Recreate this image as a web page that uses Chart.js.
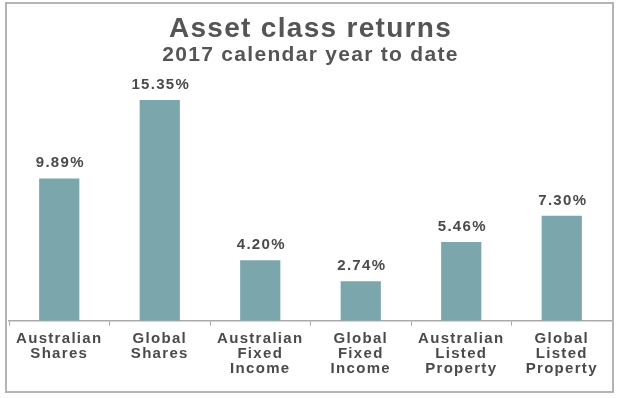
<!DOCTYPE html>
<html>
<head>
<meta charset="utf-8">
<script src="https://cdn.jsdelivr.net/npm/chart.js@4.4.0/dist/chart.umd.min.js"></script>
<style>
  html, body { margin: 0; padding: 0; background: #fff; }
  #wrap { position: relative; width: 618px; height: 398px; }
  #frame { position: absolute; left: 5px; top: 2px; width: 605px; height: 387px; border: 2px solid #b4b4b4; pointer-events: none; }
  canvas { position: absolute; left: 0; top: 0; }
</style>
</head>
<body>
<div id="wrap">
  <canvas id="c" width="618" height="398"></canvas>
  <div id="frame"></div>
</div>
<script>
// Asset class returns, 2017 YTD
const categories = [
  ['Australian', 'Shares'],
  ['Global', 'Shares'],
  ['Australian', 'Fixed', 'Income'],
  ['Global', 'Fixed', 'Income'],
  ['Australian', 'Listed', 'Property'],
  ['Global', 'Listed', 'Property']
];
const returns = [9.89, 15.35, 4.20, 2.74, 5.46, 7.30];
const valueLabels = ['9.89%', '15.35%', '4.20%', '2.74%', '5.46%', '7.30%'];

const FONT = "'Liberation Sans', Arial, sans-serif";
const TXT = '#4a4a4a';

// the original text is set wide, so space the letters out a little
const spacingPlugin = {
  id: 'spacing',
  beforeDraw(chart) { chart.ctx.letterSpacing = '1.3px'; }
};

const valueLabelPlugin = {
  id: 'valueLabels',
  afterDatasetsDraw(chart) {
    const ctx = chart.ctx;
    const meta = chart.getDatasetMeta(0);
    ctx.save();
    ctx.font = 'bold 15px ' + FONT;
    ctx.fillStyle = TXT;
    ctx.textAlign = 'center';
    ctx.textBaseline = 'alphabetic';
    meta.data.forEach((bar, i) => {
      ctx.fillText(valueLabels[i], bar.x + 1, bar.y - 11);
    });
    ctx.restore();
  }
};

new Chart(document.getElementById('c'), {
  type: 'bar',
  data: {
    labels: categories,
    datasets: [{
      data: returns,
      backgroundColor: '#7ba6ab',
      borderWidth: 0,
      categoryPercentage: 1,
      barPercentage: 0.4
    }]
  },
  options: {
    responsive: false,
    animation: false,
    events: [],
    layout: { padding: { left: 9, right: 6, top: 15, bottom: 16 } },
    plugins: {
      legend: { display: false },
      tooltip: { enabled: false },
      title: {
        display: true,
        text: 'Asset class returns',
        color: '#555',
        font: { family: FONT, size: 28, weight: 'bold', lineHeight: 1.0 },
        padding: { top: 0, bottom: 0 }
      },
      subtitle: {
        display: true,
        text: '2017 calendar year to date',
        color: '#555',
        font: { family: FONT, size: 21, weight: 'bold', lineHeight: 1.15 },
        padding: { top: 0, bottom: 9 }
      }
    },
    scales: {
      x: {
        grid: { drawOnChartArea: false, drawTicks: true, tickLength: 5, offset: true, color: '#aaa' },
        border: { color: '#aaa', width: 1.5 },
        ticks: {
          color: TXT,
          font: { family: FONT, size: 15, weight: 'bold', lineHeight: 1.03 },
          padding: 5,
          maxRotation: 0,
          autoSkip: false
        }
      },
      y: {
        display: false,
        min: 0,
        max: 17
      }
    }
  },
  plugins: [spacingPlugin, valueLabelPlugin]
});
</script>
</body>
</html>
